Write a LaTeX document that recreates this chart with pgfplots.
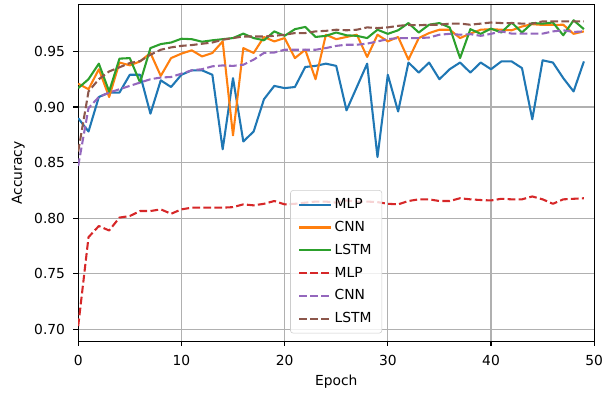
\documentclass[border={5.2pt 1pt 3.9pt 3pt}]{standalone}
\usepackage{fontspec}
\setmainfont{DejaVu Sans}
\usepackage{pgfplots}
\usepackage{pgfplotstable}
\pgfplotsset{compat=1.18}
\definecolor{tabblue}{HTML}{1F77B4}
\definecolor{taborange}{HTML}{FF7F0E}
\definecolor{tabgreen}{HTML}{2CA02C}
\definecolor{tabred}{HTML}{D62728}
\definecolor{tabpurple}{HTML}{9467BD}
\definecolor{tabbrown}{HTML}{8C564B}
\definecolor{gridgray}{HTML}{B0B0B0}

\pgfplotstableread{
e mlp cnn lstm
0 0.890 0.921 0.917
1 0.878 0.916 0.925
2 0.909 0.934 0.939
3 0.913 0.909 0.914
4 0.913 0.940 0.9435
5 0.929 0.9375 0.944
6 0.929 0.941 0.922
7 0.894 0.9486 0.953
8 0.924 0.928 0.9566
9 0.918 0.944 0.958
10 0.929 0.948 0.9614
11 0.933 0.951 0.961
12 0.933 0.9455 0.9587
13 0.929 0.9486 0.960
14 0.862 0.959 0.961
15 0.926 0.8745 0.962
16 0.869 0.953 0.966
17 0.878 0.9486 0.962
18 0.907 0.963 0.960
19 0.919 0.959 0.968
20 0.917 0.962 0.964
21 0.918 0.944 0.970
22 0.936 0.9515 0.972
23 0.937 0.925 0.963
24 0.939 0.965 0.964
25 0.937 0.961 0.967
26 0.897 0.963 0.9645
27 0.918 0.965 0.964
28 0.939 0.945 0.962
29 0.855 0.965 0.9695
30 0.929 0.959 0.9658
31 0.896 0.963 0.969
32 0.940 0.9426 0.9755
33 0.931 0.962 0.967
34 0.940 0.9665 0.974
35 0.925 0.9695 0.9755
36 0.934 0.9695 0.9715
37 0.940 0.962 0.944
38 0.931 0.966 0.970
39 0.940 0.9695 0.9658
40 0.934 0.970 0.9705
41 0.941 0.9695 0.967
42 0.941 0.969 0.976
43 0.935 0.9724 0.967
44 0.889 0.9745 0.9755
45 0.942 0.9738 0.975
46 0.940 0.9738 0.976
47 0.926 0.974 0.9645
48 0.914 0.9658 0.978
49 0.941 0.968 0.970
}\solid

\pgfplotstableread{
e mlp cnn lstm
0 0.703 0.847 0.860
1 0.783 0.899 0.914
2 0.793 0.909 0.925
3 0.789 0.913 0.932
4 0.8006 0.916 0.9357
5 0.802 0.919 0.9396
6 0.8065 0.922 0.9413
7 0.8065 0.925 0.947
8 0.808 0.9265 0.9515
9 0.804 0.927 0.9536
10 0.808 0.930 0.955
11 0.8095 0.933 0.9557
12 0.8095 0.934 0.9569
13 0.8095 0.9366 0.958
14 0.8095 0.9374 0.9605
15 0.810 0.937 0.962
16 0.8125 0.938 0.9634
17 0.8116 0.9426 0.9634
18 0.813 0.9486 0.9634
19 0.8155 0.949 0.964
20 0.8125 0.9515 0.965
21 0.813 0.9515 0.9665
22 0.814 0.9515 0.9665
23 0.815 0.9515 0.968
24 0.815 0.953 0.9685
25 0.814 0.955 0.9695
26 0.816 0.956 0.969
27 0.815 0.956 0.9695
28 0.815 0.957 0.9716
29 0.8145 0.959 0.971
30 0.813 0.961 0.9716
31 0.8125 0.962 0.973
32 0.8155 0.962 0.9738
33 0.817 0.962 0.9735
34 0.817 0.9625 0.974
35 0.8155 0.965 0.974
36 0.8155 0.9658 0.975
37 0.818 0.965 0.975
38 0.817 0.9655 0.974
39 0.8164 0.964 0.975
40 0.816 0.9658 0.976
41 0.8175 0.968 0.9755
42 0.817 0.966 0.9755
43 0.817 0.966 0.975
44 0.8196 0.966 0.975
45 0.817 0.966 0.977
46 0.813 0.968 0.977
47 0.817 0.969 0.977
48 0.8175 0.9675 0.977
49 0.818 0.968 0.977
}\dashed

\begin{document}
\begin{tikzpicture}
\begin{axis}[
  scale only axis,
  width=373.3pt, height=243.4pt,
  xmin=0, xmax=50, ymin=0.6895, ymax=0.992,
  xtick={0,10,20,30,40,50},
  ytick={0.70,0.75,0.80,0.85,0.90,0.95},
  yticklabel style={/pgf/number format/.cd, fixed, fixed zerofill, precision=2, /tikz/.cd, xshift=-2.5pt},
  xticklabel style={yshift=-3pt},
  /pgf/number format/assume math mode=true,
  ticklabel style={font=\fontsize{10}{12}\selectfont},
  label style={font=\fontsize{10}{12}\selectfont},
  xlabel={Epoch}, ylabel={Accuracy},
  grid=major,
  major grid style={draw=gridgray, line width=0.8pt},
  axis line style={line width=0.8pt},
  tick style={line width=0.8pt, black},
  tick align=outside, major tick length=3.5pt,
  xtick pos=bottom, ytick pos=left,
  legend cell align=left,
  legend style={at={(0.5,0.023)}, anchor=south, draw=black!20, fill=white, fill opacity=0.8, text opacity=1, draw opacity=1, rounded corners=2pt, font=\fontsize{10}{12}\selectfont, row sep=3.6pt, inner xsep=5.5pt, inner ysep=4pt, /tikz/every even column/.append style={column sep=4pt}},
  legend image code/.code={\draw[#1] (0pt,0pt) -- (23pt,0pt);},
  every axis plot/.append style={line width=1.5pt, line join=round},
]
\addplot[tabblue] table[x=e, y=mlp] {\solid};
\addlegendentry{MLP}
\addplot[taborange] table[x=e, y=cnn] {\solid};
\addlegendentry{CNN}
\addplot[tabgreen] table[x=e, y=lstm] {\solid};
\addlegendentry{LSTM}
\addplot[tabred, dash pattern=on 5.55pt off 2.4pt] table[x=e, y=mlp] {\dashed};
\addlegendentry{MLP}
\addplot[tabpurple, dash pattern=on 5.55pt off 2.4pt] table[x=e, y=cnn] {\dashed};
\addlegendentry{CNN}
\addplot[tabbrown, dash pattern=on 5.55pt off 2.4pt] table[x=e, y=lstm] {\dashed};
\addlegendentry{LSTM}
\end{axis}
\end{tikzpicture}
\end{document}
